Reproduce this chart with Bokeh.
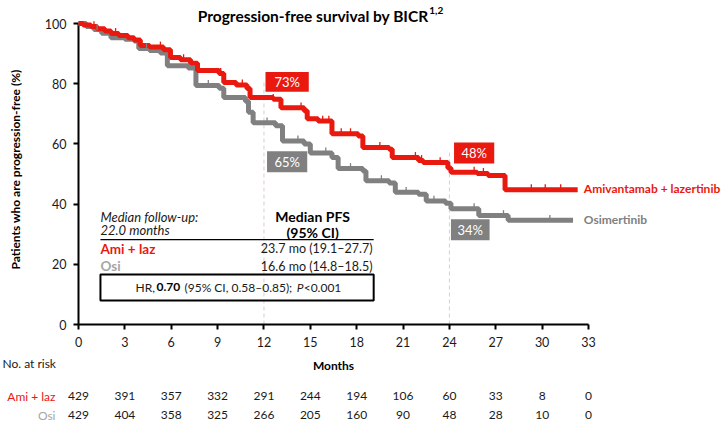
import numpy as np
from bokeh.plotting import figure
from bokeh.models import Range1d, FixedTicker
from bokeh.core.properties import value
from bokeh.embed import file_html
from bokeh.resources import INLINE

# ---------------- data ----------------
ami_t = [0, 0.3, 0.8, 1.2, 1.7, 2.1, 2.6, 3.2, 3.6, 4.0, 4.6, 5.5, 5.95, 6.6, 7.25, 7.7, 9.1, 9.4,
         10.2, 10.9, 11.1, 12.6, 13.1, 14.6, 14.8, 15.5, 16.4, 18.1, 18.4, 20.1, 20.3, 22.0, 22.3,
         23.9, 24.1, 25.8, 26.5, 27.6, 32.3]
ami_s = [100, 99.5, 99.0, 98.3, 97.5, 96.7, 96.0, 95.3, 94.5, 92.7, 92.2, 91.3, 88.7, 88.0, 86.8, 84.4, 83.4, 80.4,
         79.6, 78.4, 75.4, 74.8, 72.0, 71.0, 68.4, 67.6, 63.4, 62.6, 58.8, 58.2, 55.5, 54.5, 53.8,
         52.0, 50.6, 50.2, 49.5, 44.8, 44.8]
osi_t = [0, 0.5, 1.0, 1.5, 2.1, 3.0, 3.6, 3.9, 4.6, 5.3, 5.75, 7.1, 7.6, 9.1, 9.4, 10.8, 11.0, 11.3,
         12.75, 13.2, 14.6, 15.0, 16.4, 16.8, 18.4, 18.6, 20.1, 20.5, 22.0, 22.5, 23.75, 24.1, 25.9,
         27.8, 32.0]
osi_s = [100, 99.0, 98.0, 96.8, 95.3, 94.8, 94.2, 91.7, 91.0, 90.2, 86.0, 85.2, 79.4, 78.5, 75.4, 74.2, 70.5, 67.0,
         66.0, 61.0, 60.0, 57.0, 55.5, 51.8, 51.0, 47.8, 47.0, 43.9, 43.3, 41.0, 40.3, 38.5, 36.2,
         34.6, 34.6]
ami_cens = [1.0, 2.4, 5.3, 6.8, 9.2, 10.6, 12.6, 14.4, 15.8, 16.2, 17.0, 17.6, 19.5, 21.8, 22.2,
            23.4, 25.6, 26.2, 29.3, 30.2, 31.2]
osi_cens = [1.2, 4.4, 8.4, 12.2, 14.2, 16.0, 17.6, 19.6, 21.2, 23.0, 25.6, 27.5, 30.5]

x_ticks = [0, 3, 6, 9, 12, 15, 18, 21, 24, 27, 30, 33]
y_ticks = [0, 20, 40, 60, 80, 100]
ami_risk = [429, 391, 357, 332, 291, 244, 194, 106, 60, 33, 8, 0]
osi_risk = [429, 404, 358, 325, 266, 205, 160, 90, 48, 28, 10, 0]

landmarks = [12, 24]
ami_pct = ["73%", "48%"]
osi_pct = ["65%", "34%"]

RED = "#E9190F"
GRAY = "#808080"
LGRAY = "#A6A6A6"
FONT = value("Lato")
TXT = "#1a1a1a"

p = figure(width=723, height=424, x_range=Range1d(0, 33), y_range=Range1d(0, 103),
           output_backend="svg", toolbar_location=None,
           min_border_left=78, min_border_right=135, min_border_top=14, min_border_bottom=100)
p.outline_line_color = None
p.xgrid.visible = False
p.ygrid.visible = False

for ax in (p.xaxis, p.yaxis):
    ax.axis_line_width = 2
    ax.axis_line_color = "black"
    ax.major_tick_line_width = 2
    ax.major_tick_line_color = "black"
    ax.major_tick_out = 5
    ax.major_tick_in = 0
    ax.minor_tick_line_color = None
    ax.major_label_text_font = "Lato"
    ax.major_label_text_font_size = "12.5px"
    ax.major_label_text_color = TXT
    ax.axis_label_text_font = "Lato"
    ax.axis_label_text_font_style = "bold"
    ax.axis_label_text_font_size = "12px"
    ax.axis_label_text_color = "black"

p.xaxis.ticker = FixedTicker(ticks=x_ticks)
p.yaxis.ticker = FixedTicker(ticks=y_ticks)
p.xaxis.bounds = (0, 33)
p.yaxis.bounds = (0, 100)
p.xaxis.axis_label = "Months"
p.yaxis.axis_label = "Patients who are progression-free (%)"
p.xaxis.major_label_standoff = 7
p.xaxis.axis_label_standoff = 8
p.yaxis.major_label_standoff = 7
p.yaxis.axis_label_standoff = 19

# landmark dashed lines
p.segment(x0=[landmarks[0]], y0=[0], x1=[landmarks[0]], y1=[81], line_color="#d9cfc8",
          line_dash="4 3", line_width=1)
p.segment(x0=[landmarks[1]], y0=[0], x1=[landmarks[1]], y1=[58], line_color="#d9cfc8",
          line_dash="4 3", line_width=1)

# curves
p.step(osi_t, osi_s, mode="after", line_color=GRAY, line_width=5, level="overlay")
p.step(ami_t, ami_s, mode="after", line_color=RED, line_width=5, level="overlay")

def step_at(ts, ss, xs):
    ts = np.asarray(ts); ss = np.asarray(ss)
    idx = np.searchsorted(ts, xs, side="right") - 1
    return ss[idx]

p.scatter(osi_cens, step_at(osi_t, osi_s, osi_cens) + 0.8, marker="dash", angle=np.pi / 2,
          size=6, line_color=GRAY, line_width=1.3, level="overlay")
p.scatter(ami_cens, step_at(ami_t, ami_s, ami_cens) + 0.8, marker="dash", angle=np.pi / 2,
          size=6, line_color=RED, line_width=1.3, level="overlay")

# percentage boxes
p.quad(left=[12.1, 24.3], right=[14.9, 26.9], top=[83.9, 60.5], bottom=[77.3, 53.5],
       fill_color=RED, line_color=None)
p.quad(left=[12.2, 24.1], right=[14.8, 26.6], top=[57.6, 35.0], bottom=[50.6, 28.0],
       fill_color=GRAY, line_color=None)
p.text(x=[13.5, 25.6], y=[80.6, 57.0], text=ami_pct, text_color="white", text_font=FONT,
       text_font_size="13px", text_align="center", text_baseline="middle")
p.text(x=[13.5, 25.35], y=[54.1, 31.5], text=osi_pct, text_color="white", text_font=FONT,
       text_font_size="13px", text_align="center", text_baseline="middle")

# series labels
p.text(x=[32.7], y=[45.2], text=["Amivantamab + lazertinib"], text_color=RED, text_font=FONT,
       text_font_style="bold", text_font_size="12px", text_align="left", text_baseline="middle",
       level="overlay")
p.text(x=[32.7], y=[34.9], text=["Osimertinib"], text_color=GRAY, text_font=FONT,
       text_font_style="bold", text_font_size="12px", text_align="left", text_baseline="middle",
       level="overlay")

# title
p.text(x=[22.65], y=[102.5], text=["Progression-free survival by BICR"], text_color="black",
       text_font=FONT, text_font_style="bold", text_font_size="15.5px", text_align="right",
       text_baseline="middle", level="overlay")
p.text(x=[22.7], y=[104.3], text=["1,2"], text_color="black", text_font=FONT,
       text_font_style="bold", text_font_size="10px", text_align="left", text_baseline="middle",
       level="overlay")

# median table
p.text(x=[1.42, 1.42], y=[35.6, 31.5], text=["Median follow-up:", "22.0 months"], text_color=TXT,
       text_font=FONT, text_font_style="italic", text_font_size="13px", text_align="left",
       text_baseline="middle")
p.text(x=[15.15, 15.15], y=[35.9, 30.6], text=["Median PFS", "(95% CI)"], text_color="black",
       text_font=FONT, text_font_style="bold", text_font_size="14px", text_align="center",
       text_baseline="middle")
p.segment(x0=[1.42], y0=[28.2], x1=[19.1], y1=[28.2], line_color="black", line_width=1.2)
p.text(x=[1.42], y=[25.2], text=["Ami + laz"], text_color=RED, text_font=FONT,
       text_font_style="bold", text_font_size="13.5px", text_align="left", text_baseline="middle")
p.text(x=[1.42], y=[19.3], text=["Osi"], text_color=LGRAY, text_font=FONT,
       text_font_style="bold", text_font_size="13.5px", text_align="left", text_baseline="middle")
p.text(x=[19.03, 19.03], y=[25.2, 19.3], text=["23.7 mo (19.1\u201327.7)", "16.6 mo (14.8\u201318.5)"],
       text_color=TXT, text_font=FONT, text_font_size="12.5px", text_align="right",
       text_baseline="middle")
p.quad(left=[1.42], right=[19.1], top=[16.6], bottom=[8.0], fill_color=None,
       line_color="black", line_width=2)
hr_y = 12.3
p.text(x=[3.69], y=[hr_y], text=["HR,"], text_color=TXT, text_font=FONT, text_font_size="12px",
       text_align="left", text_baseline="middle")
p.text(x=[5.05], y=[hr_y], text=["0.70"], text_color="black", text_font=FONT,
       text_font_style="bold", text_font_size="12px", text_align="left", text_baseline="middle")
p.text(x=[6.86], y=[hr_y], text=["(95% CI, 0.58\u20130.85);"], text_color=TXT, text_font=FONT,
       text_font_size="12px", text_align="left", text_baseline="middle")
p.text(x=[14.12], y=[hr_y], text=["P"], text_color=TXT, text_font=FONT, text_font_style="italic",
       text_font_size="12px", text_align="left", text_baseline="middle")
p.text(x=[14.57], y=[hr_y], text=["<0.001"], text_color=TXT, text_font=FONT,
       text_font_size="12px", text_align="left", text_baseline="middle")

# number at risk
p.text(x=[-4.92], y=[-13.0], text=["No. at risk"], text_color=TXT, text_font=FONT,
       text_font_size="12px", text_align="left", text_baseline="middle", level="overlay")
p.text(x=[-1.49], y=[-23.9], text=["Ami + laz"], text_color=RED, text_font=FONT,
       text_font_size="12px", text_align="right", text_baseline="middle", level="overlay")
p.text(x=[-1.49], y=[-30.2], text=["Osi"], text_color=LGRAY, text_font=FONT,
       text_font_size="12px", text_align="right", text_baseline="middle", level="overlay")
p.text(x=x_ticks, y=[-23.9] * len(x_ticks), text=[str(v) for v in ami_risk], text_color=TXT,
       text_font=FONT, text_font_size="12px", text_align="center", text_baseline="middle",
       level="overlay")
p.text(x=x_ticks, y=[-30.2] * len(x_ticks), text=[str(v) for v in osi_risk], text_color=TXT,
       text_font=FONT, text_font_size="12px", text_align="center", text_baseline="middle",
       level="overlay")

open("out.html", "w").write(file_html(p, INLINE))
